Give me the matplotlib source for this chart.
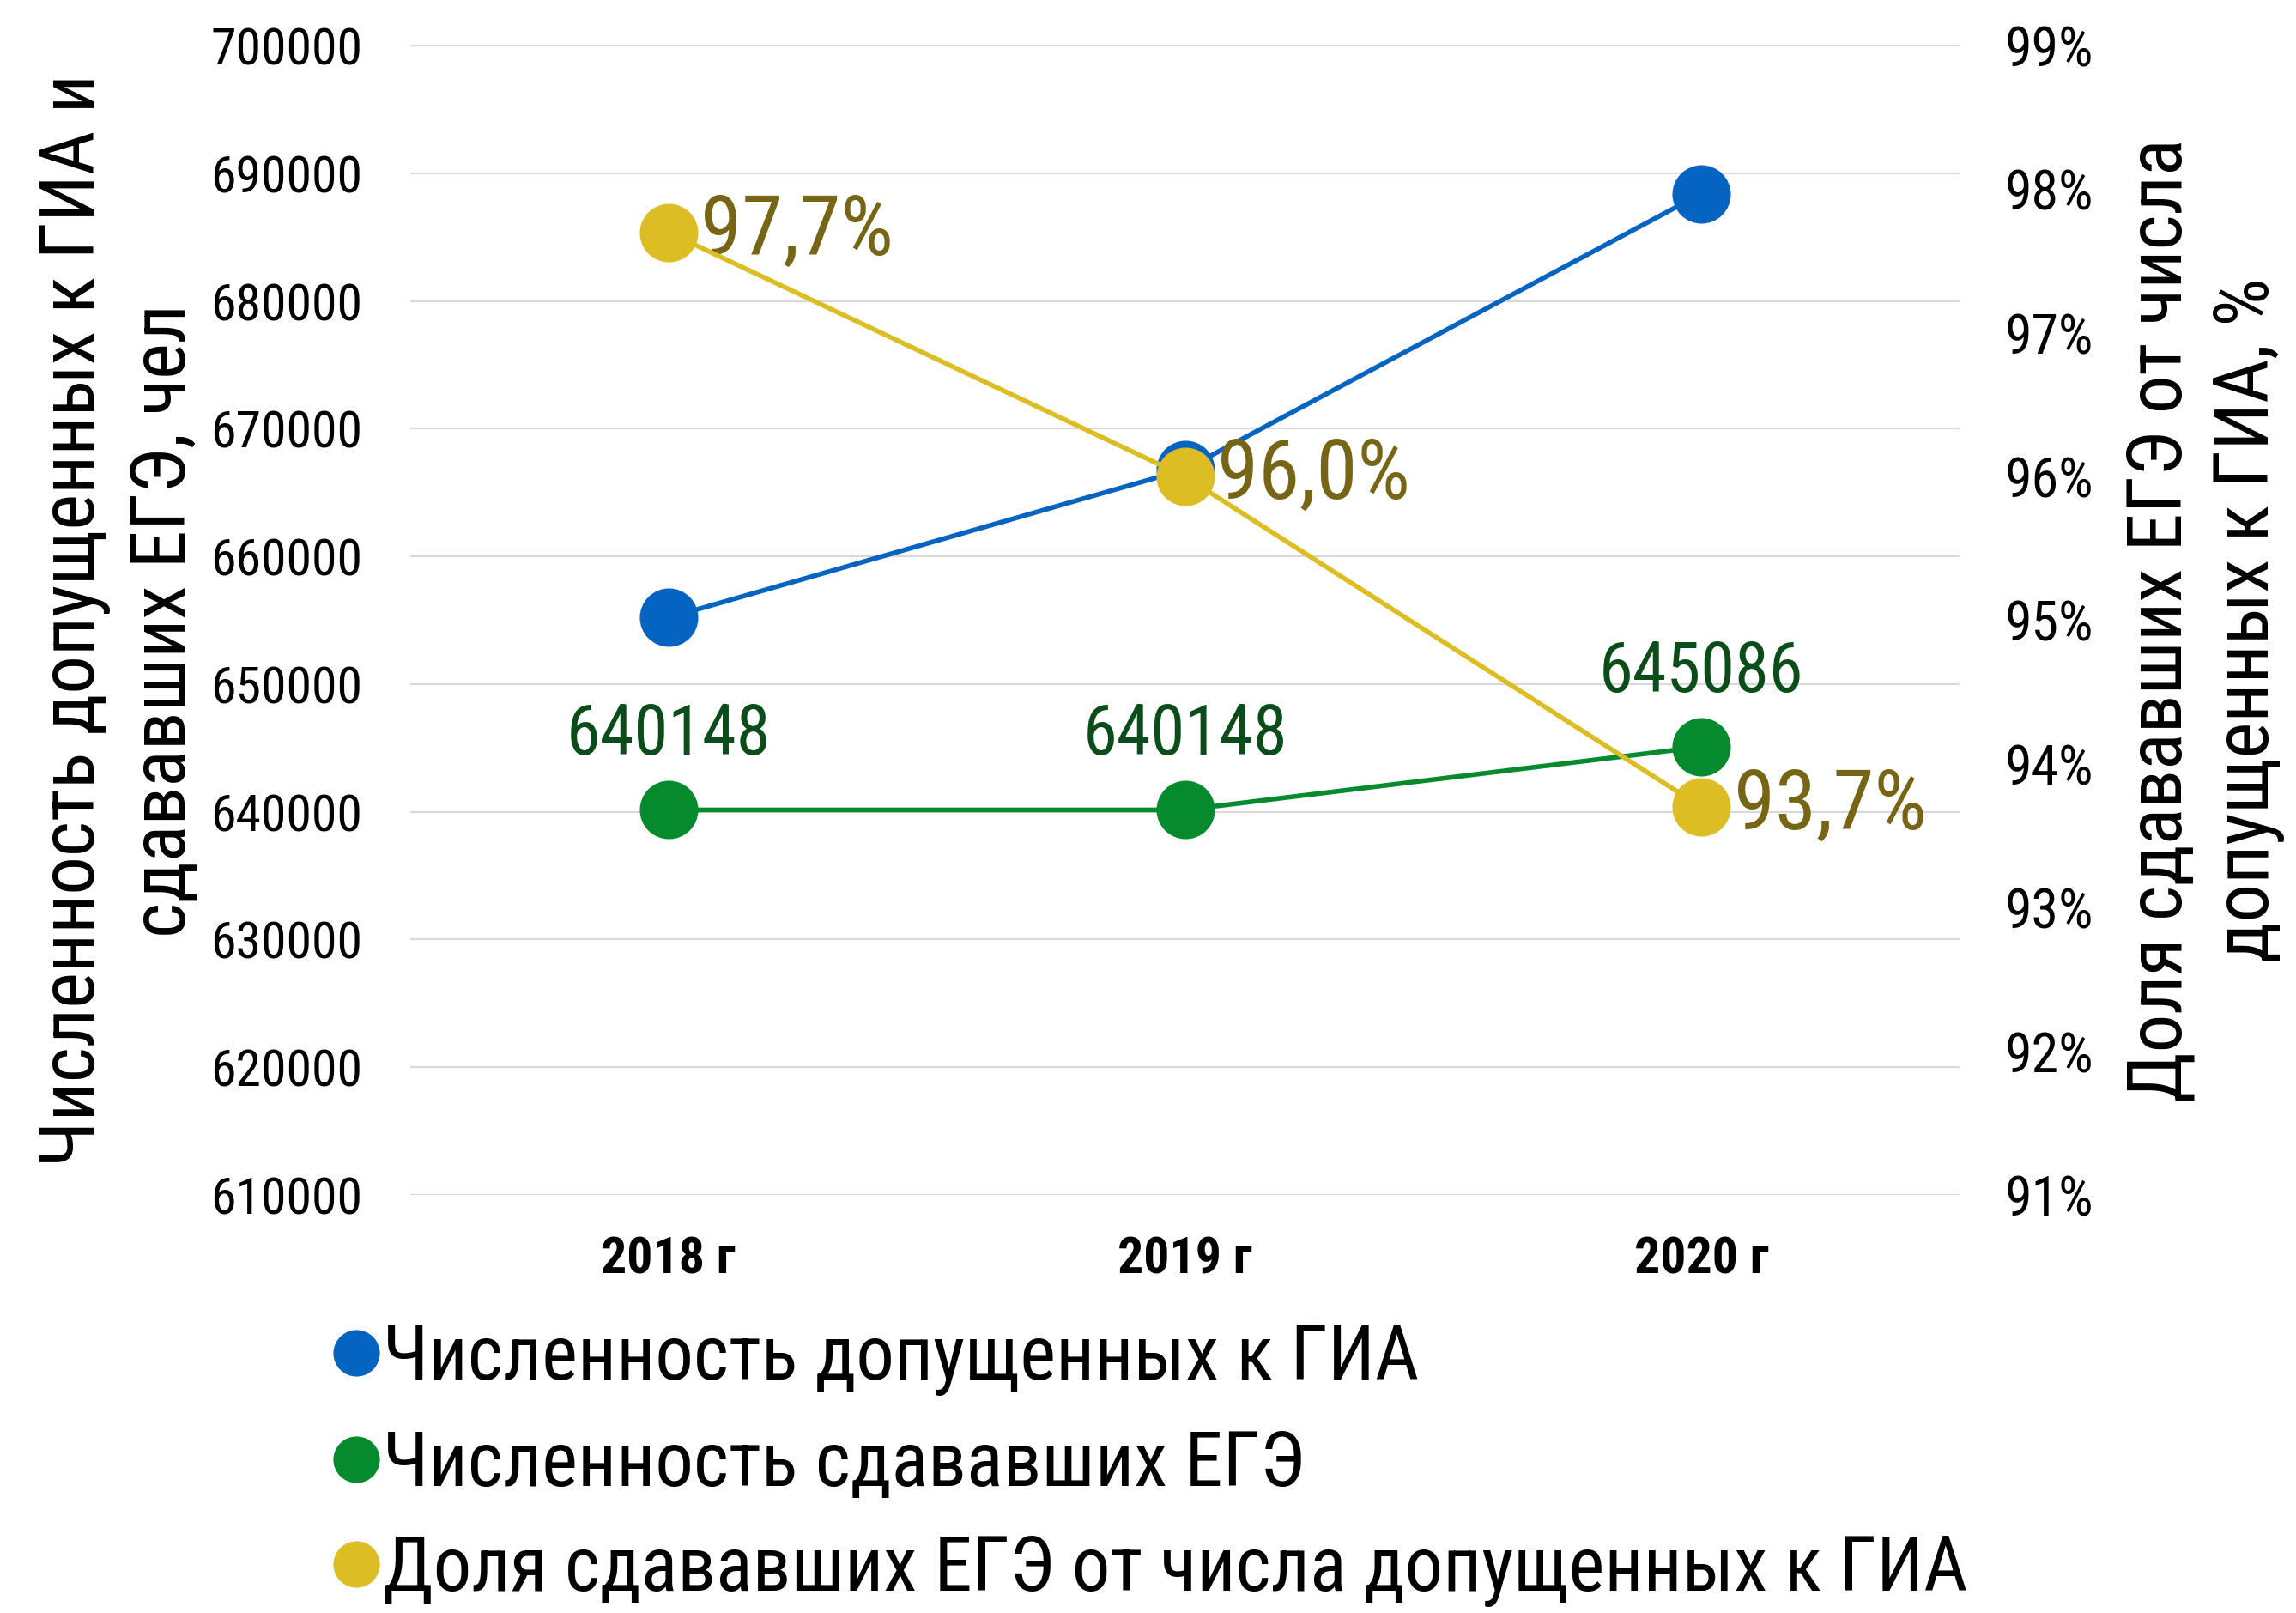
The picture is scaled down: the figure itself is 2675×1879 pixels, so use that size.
import matplotlib.pyplot as plt
from matplotlib.lines import Line2D
from matplotlib.ticker import FuncFormatter

plt.rcParams['font.family'] = ['Roboto Condensed', 'DejaVu Sans Condensed', 'Liberation Sans', 'DejaVu Sans']

years = ["2018 г", "2019 г", "2020 г"]
admitted = [655200, 666800, 688400]
passed = [640148, 640148, 645086]
share = [0.977, 0.960, 0.937]
share_labels = ["97,7%", "96,0%", "93,7%"]

blue = "#0563C1"
green = "#068A2E"
yellow = "#DCBE24"

fig = plt.figure(figsize=(26.75, 18.79), dpi=100)
ax = fig.add_axes([0.1787, 0.2592, 0.6748, 0.7126])
ax2 = ax.twinx()

x = list(range(len(years)))
ax.plot(x, admitted, color=blue, lw=4, marker="o", ms=48, zorder=3)
ax.plot(x, passed, color=green, lw=4, marker="o", ms=48, zorder=3)
ax2.plot(x, share, color=yellow, lw=4, marker="o", ms=48, zorder=4)

# подписи данных
for i, v in enumerate(passed):
    ax.annotate(str(v), (i, v), xytext=(0, 62), textcoords="offset points",
                ha="center", va="center", fontsize=58, color="#0B4D1A")
for i, v in enumerate(share):
    ax2.annotate(share_labels[i], (i, v), xytext=(27, 0), textcoords="offset points",
                 ha="left", va="center", fontsize=70, color="#756514")

ax.set_xlim(-0.5, 2.5)
ax.set_ylim(610000, 700000)
ax.set_yticks(range(610000, 700001, 10000))
ax2.set_ylim(0.91, 0.99)
ax2.set_yticks([0.91 + 0.01 * k for k in range(9)])
ax2.yaxis.set_major_formatter(FuncFormatter(lambda v, p: f"{round(v * 100)}%"))

ax.set_xticks(x)
ax.set_xticklabels(years, fontsize=43, fontweight="bold")
ax.tick_params(axis="x", length=0, pad=34)
ax.tick_params(axis="y", length=0, labelsize=43, pad=40)
ax2.tick_params(axis="y", length=0, labelsize=46, pad=38)

ax.yaxis.grid(True, color="#D9D9D9", lw=1.6)
ax.set_axisbelow(True)
for a in (ax, ax2):
    for s in a.spines.values():
        s.set_visible(False)

ax.set_ylabel("Численность допущенных к ГИА и\nсдававших ЕГЭ, чел", fontsize=64,
              linespacing=1.3)
ax.yaxis.set_label_coords(-0.135, 0.5)
ax2.set_ylabel("Доля сдававших ЕГЭ от числа\nдопущенных к ГИА, %", fontsize=64,
               linespacing=1.25)
ax2.yaxis.set_label_coords(1.106, 0.5)

handles = [Line2D([], [], ls="none", marker="o", ms=38, color=c) for c in (blue, green, yellow)]
labels = ["Численность допущенных к ГИА", "Численность сдававших ЕГЭ",
          "Доля сдававших ЕГЭ от числа допущенных к ГИА"]
fig.legend(handles, labels, loc="center left", bbox_to_anchor=(0.145, 0.092),
           frameon=False, fontsize=64, handlelength=0.6, handletextpad=0.05,
           labelspacing=0.42, borderpad=0, borderaxespad=0)

fig.savefig("out.png", dpi=100)
